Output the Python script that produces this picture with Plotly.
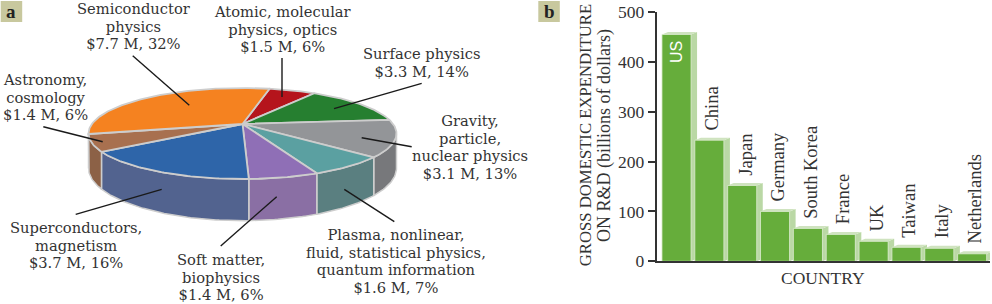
import math
import plotly.graph_objects as go

# ---------- data ----------
pie_names = ["Atomic", "Surface", "Gravity", "Plasma", "Soft", "Super", "Astro", "Semi"]
pie_shares = [6, 14, 13, 7, 6, 16, 6, 32]
pie_top_colors = ["#B5141C", "#267F30", "#939598", "#5BA0A1", "#8F6FB6", "#2E65A9", "#A8704F", "#F58220"]
pie_side_colors = ["#8A1016", "#1C5F24", "#77787B", "#5A7F80", "#8A6FA4", "#52638F", "#8C6146", "#B8621A"]

pie_labels = [
    (["Semiconductor", "physics", "$7.7 M, 32%"], 134, 8.3),
    (["Atomic, molecular", "physics, optics", "$1.5 M, 6%"], 283, 10.7),
    (["Surface physics", "$3.3 M, 14%"], 421.7, 52.7),
    (["Gravity,", "particle,", "nuclear physics", "$3.1 M, 13%"], 470, 120),
    (["Astronomy,", "cosmology", "$1.4 M, 6%"], 45, 79),
    (["Superconductors,", "magnetism", "$3.7 M, 16%"], 76.3, 227),
    (["Soft matter,", "biophysics", "$1.4 M, 6%"], 221, 258.5),
    (["Plasma, nonlinear,", "fluid, statistical physics,", "quantum information", "$1.6 M, 7%"], 395.7, 234),
]
leaders = [
    (132.7, 55.7, 189.3, 105.3), (282, 58, 282, 97), (421.7, 83.3, 334, 108.7),
    (411.7, 146.7, 361.7, 137.7), (394.3, 221.7, 344.3, 189.3), (220.7, 246, 276.7, 196.7),
    (75.7, 214.3, 161.7, 189.3), (43.3, 126.7, 102.7, 141.7),
]

countries = ["US", "China", "Japan", "Germany", "South Korea", "France", "UK", "Taiwan", "Italy", "Netherlands"]
spending = [455, 243, 152, 100, 66, 54, 40, 28, 26, 15]

# ---------- styles ----------
FONT = "Liberation Serif"
LABEL_FONT = "DejaVu Serif"
TXT = "#333333"
EDGE = "#CDCDCD"
CX, CY, A, B, K, D = 242.5, 124.0, 150.6, 43.5, 0.209, 33.0
START = 77.5

def proj(t, bottom=False):
    r = math.radians(t)
    u, v = math.cos(r), math.sin(r)
    w = 1 + K * v
    y = CY - B * v / w + (D / w if bottom else 0)
    return CX + A * u / w, y

def span(a, b):
    n = max(2, int(abs(a - b)) + 2)
    return [a + (b - a) * i / (n - 1) for i in range(n)]

fig = go.Figure()

def poly(xs, ys, fill, line, lw, xa="x", ya="y"):
    fig.add_trace(go.Scatter(x=xs, y=ys, mode="lines", fill="toself", fillcolor=fill,
                             line=dict(color=line, width=lw), hoverinfo="skip",
                             showlegend=False, xaxis=xa, yaxis=ya))

# pie sides
ang = START
wedges = []
for s in pie_shares:
    wedges.append((ang, ang - s * 3.6))
    ang -= s * 3.6
for (a0, a1), c in zip(wedges, pie_side_colors):
    a = min(a0, -12)
    b = max(a1, -168)
    if a > b:
        ts = span(a, b)
        top = [proj(t) for t in ts]
        bot = [proj(t, True) for t in reversed(ts)]
        pts = top + bot + [top[0]]
        poly([p[0] for p in pts], [p[1] for p in pts], c, EDGE, 1.5)
# pie tops
for (a0, a1), c in zip(wedges, pie_top_colors):
    arc = [proj(t) for t in span(a0, a1)]
    pts = [(CX, CY)] + arc + [(CX, CY)]
    poly([p[0] for p in pts], [p[1] for p in pts], c, EDGE, 1.8)

# bar 3D faces, from the values, behind the bars
W, DX, DY = 0.885, 0.183, 5.0
for i, v in enumerate(spending):
    l, r = i - W / 2, i + W / 2
    poly([r, r + DX, r + DX, r, r], [0, DY, v + DY, v, 0], "#BAD8A5", "#BAD8A5", 0, "x2", "y2")
    poly([l, l + DX, r + DX, r, l], [v, v + DY, v + DY, v, v], "#CFE3BF", "#CFE3BF", 0, "x2", "y2")

fig.add_trace(go.Bar(x=list(range(len(spending))), y=spending, width=W, marker=dict(color="#66AD3B", line=dict(color="#DCEBCF", width=0.8)),
                     hoverinfo="skip", showlegend=False, xaxis="x3", yaxis="y3"))

def px(x):
    return x / 992

def py(y):
    return 1 - y / 304

ann = []
shapes = []
LH = 17.75
LABEL_SIZE = 14.7
for lines, cx, y0 in pie_labels:
    text = "<br>".join(f"<span style='font-size:{LABEL_SIZE}px'>{t}</span>" for t in lines)
    ann.append(dict(text=text, xref="paper", yref="paper", x=px(cx), y=py(y0 - 9), xanchor="center",
                    yanchor="top", showarrow=False, align="center", borderpad=0,
                    font=dict(family=LABEL_FONT, size=LH / 1.3, color=TXT)))
for x0, y0, x1, y1 in leaders:
    shapes.append(dict(type="line", xref="paper", yref="paper", x0=px(x0), y0=py(y0), x1=px(x1), y1=py(y1),
                       line=dict(color="#1A1A1A", width=1.4)))

for letter, x0 in (("a", 0.7), ("b", 538.3)):
    shapes.append(dict(type="rect", xref="paper", yref="paper", x0=px(x0), x1=px(x0 + 21.5), y0=py(1), y1=py(22),
                       fillcolor="#C8C89E", line=dict(width=0)))
    ann.append(dict(text=f"<b>{letter}</b>", xref="paper", yref="paper", x=px(x0 + 10.7), y=py(11), showarrow=False,
                    xanchor="center", yanchor="middle", font=dict(family=FONT, size=19, color="#222222")))

for i, (c, v) in enumerate(zip(countries, spending)):
    if i == 0:
        ann.append(dict(text=c, xref="x3", yref="y3", x=i, y=v, xanchor="center", yanchor="top", yshift=-5,
                        textangle=-90, showarrow=False, font=dict(family="Liberation Sans", size=16, color="#FFFFFF")))
    else:
        ann.append(dict(text=c, xref="x3", yref="y3", x=i, y=v, xanchor="center", yanchor="bottom", xshift=3, yshift=8,
                        textangle=-90, showarrow=False, font=dict(family=FONT, size=18.5, color=TXT)))

for t, x, y, s in (("GROSS DOMESTIC EXPENDITURE", 585.7, 135.5, 16.7), ("ON R&D (billions of dollars)", 604, 136, 18)):
    ann.append(dict(text=t, xref="paper", yref="paper", x=px(x), y=py(y), textangle=-90, xanchor="center",
                    yanchor="middle", showarrow=False, font=dict(family=FONT, size=s, color=TXT)))
ann.append(dict(text="COUNTRY", xref="paper", yref="paper", x=px(822.7), y=py(278), xanchor="center", yanchor="middle",
                showarrow=False, font=dict(family=FONT, size=17.5, color=TXT)))

hidden = dict(visible=False, fixedrange=True)
xr = [-0.603, 9.543]
yr = [0, 500]
xdom = [656.7 / 992, 990 / 992]
ydom = [1 - 261.3 / 304, 1 - 12 / 304]
fig.update_layout(
    width=992, height=304, margin=dict(l=0, r=0, t=0, b=0, autoexpand=False), paper_bgcolor="white", plot_bgcolor="rgba(0,0,0,0)",
    showlegend=False, annotations=ann, shapes=shapes,
    xaxis=dict(hidden, range=[0, 992], domain=[0, 1]),
    yaxis=dict(hidden, range=[304, 0], domain=[0, 1]),
    xaxis2=dict(hidden, range=xr, domain=xdom, anchor="y2"),
    yaxis2=dict(hidden, range=yr, domain=ydom, anchor="x2"),
    xaxis3=dict(range=xr, domain=xdom, anchor="y3", overlaying="x2", showticklabels=False, ticks="", showgrid=False,
                zeroline=False, showline=True, linecolor="#333333", linewidth=1.8, fixedrange=True),
    yaxis3=dict(range=yr, domain=ydom, anchor="x3", overlaying="y2", tickvals=[0, 100, 200, 300, 400, 500], ticks="outside",
                ticklen=7, tickwidth=1.8, tickcolor="#333333", showgrid=False, zeroline=False, showline=True,
                linecolor="#333333", linewidth=1.8, tickfont=dict(family=FONT, size=17.5, color=TXT), fixedrange=True),
)
fig.write_html("out.html", config=dict(displayModeBar=False),
               post_script="document.body.style.margin='0';document.documentElement.style.overflow='hidden';")
